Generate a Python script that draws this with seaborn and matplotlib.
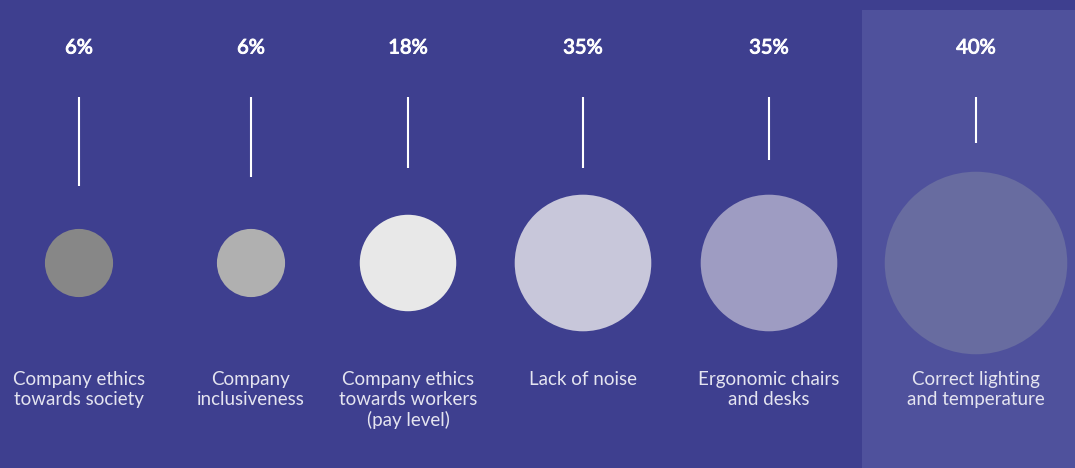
import matplotlib
matplotlib.use("Agg")
import matplotlib.pyplot as plt
import matplotlib.patheffects as pe
from matplotlib.patches import Rectangle
import seaborn as sns
import pandas as pd

# ---- data -------------------------------------------------------------
categories = [
    "Company ethics\ntowards society",
    "Company\ninclusiveness",
    "Company ethics\ntowards workers\n(pay level)",
    "Lack of noise",
    "Ergonomic chairs\nand desks",
    "Correct lighting\nand temperature",
]
values = [6, 6, 18, 35, 35, 40]
value_labels = ["6%", "6%", "18%", "35%", "35%", "40%"]
highlighted = "Correct lighting\nand temperature"

# ---- layout & style ---------------------------------------------------
W, H, DPI = 1075, 468, 100
slot_centers = [79, 251, 408, 583, 769, 976]      # column centre of each item (px)
stem_lengths = [89, 80, 71, 71, 63, 46]           # decorative stems (px)
stem_top = 97
circle_row = 263
pct_row = 48
label_row = 371
bg_color = "#3E3F8F"
band_color = "#4F519C"
circle_colors = ["#878787", "#B0B0B0", "#E8E8E8", "#C8C7DA", "#9E9CC2", "#686CA0"]
radius_base, radius_per_pt, highlight_scale = 27.0, 1.18, 1.23

sns.set_theme(style="white")
plt.rcParams["font.family"] = ["Lato", "DejaVu Sans"]

df = pd.DataFrame({"category": categories, "value": values,
                   "label": value_labels, "x": slot_centers})
df["y"] = circle_row
# circle radius grows with the value; the highlighted item gets extra emphasis
df["radius"] = [(radius_base + radius_per_pt * v) * (highlight_scale if c == highlighted else 1.0)
                for c, v in zip(df["category"], df["value"])]
# scatter size in points^2 from pixel radius
df["area"] = (2 * df["radius"] * 72 / DPI) ** 2

fig = plt.figure(figsize=(W / DPI, H / DPI), dpi=DPI, facecolor=bg_color)
ax = fig.add_axes([0, 0, 1, 1])
ax.set_facecolor(bg_color)
ax.set_xlim(0, W)
ax.set_ylim(H, 0)
ax.axis("off")

# highlight band behind the last column
ax.add_patch(Rectangle((862, 10), W - 862, H - 10, facecolor=band_color,
                       edgecolor="none", zorder=0))

sns.scatterplot(data=df, x="x", y="y", hue="category",
                palette=dict(zip(categories, circle_colors)),
                size="category", sizes=dict(zip(df["category"], df["area"])),
                linewidth=0, legend=False, ax=ax, zorder=3)

medium = [pe.withStroke(linewidth=0.7, foreground="white")]
for i, row in df.iterrows():
    ax.plot([row["x"], row["x"]], [stem_top, stem_top + stem_lengths[i]],
            color="white", lw=1.5, solid_capstyle="butt", zorder=2)
    ax.text(row["x"], pct_row, row["label"], color="white", fontsize=14.5,
            ha="center", va="center", path_effects=medium, zorder=4)
    ax.text(row["x"], label_row, row["category"], color="#E4E4F0", fontsize=13.5,
            ha="center", va="top", linespacing=1.2, zorder=4)

ax.set_xlabel("")
ax.set_ylabel("")
fig.savefig("out.png", dpi=DPI, facecolor=bg_color)
